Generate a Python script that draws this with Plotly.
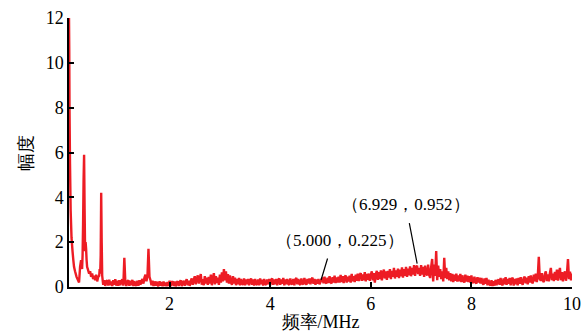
import plotly.graph_objects as go

# Low-frequency part (explicit x, y readings)
low_x = [0.0, 0.005, 0.01, 0.02, 0.033, 0.05, 0.07, 0.086, 0.1, 0.12, 0.15, 0.18, 0.2, 0.22, 0.24,
         0.25, 0.26, 0.27, 0.28, 0.29, 0.30, 0.31, 0.32, 0.33, 0.34, 0.35, 0.36, 0.38, 0.40, 0.42,
         0.44, 0.46, 0.48, 0.50, 0.52, 0.54, 0.56, 0.58, 0.60, 0.61, 0.62, 0.63, 0.64, 0.65, 0.66,
         0.67, 0.68, 0.70, 0.72, 0.74]
low_y = [12.0, 10.5, 8.0, 5.5, 3.4, 2.2, 1.6, 1.2, 0.9, 0.7, 0.45, 0.3, 0.2, 0.9, 1.2,
         1.0, 0.8, 1.4, 2.8, 4.8, 5.9, 3.5, 1.6, 2.0, 1.7, 1.2, 0.9, 0.75, 0.6, 0.7,
         0.45, 0.6, 0.35, 0.5, 0.3, 0.55, 0.25, 0.45, 0.5, 0.8, 0.6, 1.4, 4.2, 2.0, 0.5,
         0.3, 0.1, 0.3, 0.05, 0.25]

# Remaining spectrum, sampled every 0.02 MHz starting at 0.76 MHz
step_start = 0.76
step = 0.02
rest_y = [
    0.30, 0.06, 0.32, 0.08, 0.25, 0.04, 0.30, 0.10, 0.35, 0.06,
    0.28, 0.05, 0.30, 0.08, 0.26, 0.34, 0.06, 1.30, 0.22, 0.05,
    0.25, 0.30, 0.05, 0.28, 0.08, 0.32, 0.04, 0.26, 0.10, 0.06,
    0.28, 0.05, 0.30, 0.10, 0.26, 0.36, 0.15, 0.42, 0.55, 0.25,
    0.50, 1.70, 0.45, 0.30, 0.08, 0.28, 0.04, 0.25, 0.06, 0.24,
    0.08, 0.04, 0.26, 0.06, 0.22, 0.03, 0.25, 0.05, 0.20, 0.04,
    0.22, 0.05, 0.28, 0.04, 0.20, 0.26, 0.05, 0.24, 0.03, 0.20,
    0.26, 0.05, 0.22, 0.30, 0.04, 0.20, 0.28, 0.06, 0.24, 0.35,
    0.08, 0.28, 0.05, 0.26, 0.38, 0.10, 0.32, 0.48, 0.12, 0.36,
    0.52, 0.15, 0.40, 0.58, 0.10, 0.35, 0.08, 0.48, 0.15, 0.42,
    0.10, 0.45, 0.15, 0.55, 0.08, 0.38, 0.62, 0.12, 0.48, 0.18,
    0.42, 0.10, 0.55, 0.20, 0.65, 0.25, 0.80, 0.30, 0.70, 0.20,
    0.58, 0.15, 0.52, 0.20, 0.10, 0.48, 0.15, 0.42, 0.08, 0.36,
    0.12, 0.40, 0.08, 0.36, 0.15, 0.10, 0.38, 0.08, 0.34, 0.12,
    0.36, 0.08, 0.30, 0.38, 0.10, 0.34, 0.06, 0.36, 0.14, 0.10,
    0.34, 0.08, 0.38, 0.12, 0.32, 0.06, 0.36, 0.14, 0.10, 0.34,
    0.12, 0.36, 0.08, 0.32, 0.38, 0.10, 0.34, 0.12, 0.36, 0.08,
    0.32, 0.38, 0.10, 0.34, 0.14, 0.40, 0.08, 0.34, 0.12, 0.36,
    0.14, 0.10, 0.38, 0.16, 0.12, 0.36, 0.08, 0.34, 0.40, 0.12,
    0.36, 0.14, 0.10, 0.38, 0.16, 0.12, 0.40, 0.18, 0.10, 0.36,
    0.16, 0.38, 0.12, 0.34, 0.42, 0.14, 0.36, 0.10, 0.34, 0.14,
    0.36, 0.12, 0.225, 0.34, 0.42, 0.16, 0.46, 0.20, 0.16, 0.42,
    0.18, 0.48, 0.22, 0.16, 0.44, 0.20, 0.50, 0.18, 0.42, 0.20,
    0.46, 0.20, 0.54, 0.22, 0.48, 0.18, 0.44, 0.52, 0.20, 0.46,
    0.24, 0.50, 0.20, 0.58, 0.26, 0.48, 0.22, 0.55, 0.28, 0.60,
    0.26, 0.54, 0.62, 0.28, 0.56, 0.30, 0.66, 0.25, 0.58, 0.32,
    0.60, 0.28, 0.55, 0.70, 0.30, 0.62, 0.20, 0.58, 0.72, 0.32,
    0.66, 0.35, 0.74, 0.30, 0.60, 0.78, 0.38, 0.70, 0.32, 0.72,
    0.42, 0.80, 0.35, 0.72, 0.45, 0.85, 0.38, 0.74, 0.45, 0.82,
    0.40, 0.78, 0.48, 0.88, 0.42, 0.80, 0.50, 0.90, 0.45, 0.82,
    0.52, 0.92, 0.48, 0.85, 0.55, 0.98, 0.50, 0.88, 0.95, 0.58,
    0.85, 0.50, 0.98, 0.55, 0.90, 0.45, 0.95, 0.60, 0.52, 1.00,
    0.55, 0.40, 0.90, 1.25, 0.25, 1.00, 0.50, 1.60, 0.30, 0.95,
    0.45, 0.80, 0.35, 0.70, 0.25, 1.30, 0.40, 0.85, 0.35, 0.70,
    0.30, 0.62, 0.25, 0.58, 0.22, 0.55, 0.28, 0.60, 0.24, 0.52,
    0.25, 0.58, 0.22, 0.52, 0.28, 0.20, 0.55, 0.24, 0.50, 0.22,
    0.48, 0.20, 0.52, 0.24, 0.18, 0.46, 0.22, 0.15, 0.44, 0.20,
    0.42, 0.15, 0.40, 0.18, 0.10, 0.38, 0.14, 0.40, 0.08, 0.32,
    0.12, 0.06, 0.30, 0.04, 0.26, 0.06, 0.32, 0.08, 0.28, 0.34,
    0.10, 0.40, 0.14, 0.08, 0.38, 0.12, 0.44, 0.10, 0.36, 0.14,
    0.40, 0.08, 0.34, 0.42, 0.06, 0.36, 0.12, 0.38, 0.08, 0.40,
    0.14, 0.44, 0.18, 0.10, 0.40, 0.46, 0.16, 0.42, 0.12, 0.48,
    0.20, 0.52, 0.24, 0.16, 0.55, 0.25, 0.60, 0.22, 0.50, 1.35,
    0.35, 0.28, 0.62, 0.30, 0.22, 0.58, 0.70, 0.26, 0.56, 0.25,
    0.62, 0.85, 0.30, 0.60, 0.26, 0.68, 0.32, 0.78, 0.28, 0.64,
    0.85, 0.30, 0.66, 0.25, 0.58, 0.70, 0.28, 0.62, 1.25, 0.35,
    0.68, 0.30, 0.60,
]
rest_x = [round(step_start + i * step, 4) for i in range(len(rest_y))]

freq = low_x + rest_x
amp = low_y + rest_y

x_ticks = [2, 4, 6, 8, 10]
y_ticks = [0, 2, 4, 6, 8, 10, 12]

callouts = [(5.000, 0.225), (6.929, 0.952)]
callout_arrow = [(7.5, -25), (-8.5, -44)]
callout_shift = [(19, 41), (-12, 61)]

fig = go.Figure()
fig.add_trace(go.Scatter(x=freq, y=amp, mode="lines",
                         line=dict(color="#ED1C24", width=2.4, simplify=False),
                         showlegend=False))

serif = "'Liberation Serif', 'Times New Roman', Times, serif"

for (cx, cy), (ax, ay), (xs, ys) in zip(callouts, callout_arrow, callout_shift):
    fig.add_annotation(x=cx, y=cy, xref="x", yref="y", text="", showarrow=True,
                       arrowhead=0, arrowwidth=1.2, arrowcolor="black",
                       ax=ax, ay=ay, standoff=2)
    fig.add_annotation(x=cx, y=cy, xref="x", yref="y",
                       text=f"（{cx:.3f}，{cy:.3f}）", showarrow=False,
                       xshift=xs, yshift=ys,
                       font=dict(family=serif, size=17, color="black"))

fig.update_layout(
    width=588, height=335,
    margin=dict(l=69, r=16, t=18, b=48),
    paper_bgcolor="white", plot_bgcolor="white",
    font=dict(family=serif, size=18, color="black"),
)
fig.update_xaxes(range=[0, 10], tickvals=x_ticks, ticks="inside", ticklen=5,
                 tickwidth=1.5, tickcolor="black", showline=True, linecolor="black",
                 linewidth=1.5, showgrid=False, zeroline=False, automargin=False,
                 title=dict(text="频率/MHz", standoff=2, font=dict(size=18, family=serif)),
                 tickfont=dict(size=18, family=serif))
fig.update_yaxes(range=[0, 12], tickvals=y_ticks, ticks="inside", ticklen=5,
                 tickwidth=1.5, tickcolor="black", showline=True, linecolor="black",
                 linewidth=1.5, showgrid=False, zeroline=False, automargin=False,
                 title=dict(text="幅度", standoff=8, font=dict(size=18, family=serif)),
                 tickfont=dict(size=18, family=serif))

fig.write_html("out.html")
